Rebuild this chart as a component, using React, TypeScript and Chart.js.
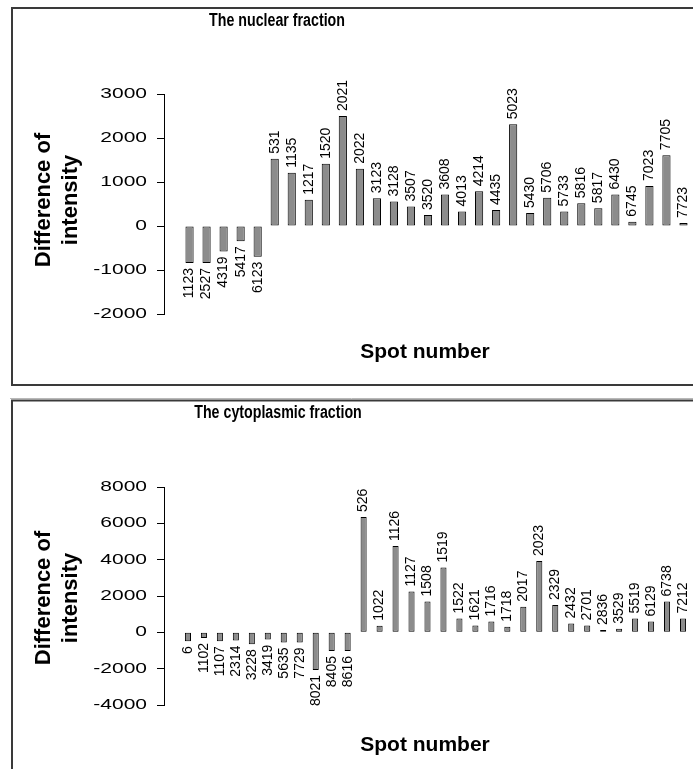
import React, { useEffect, useRef } from 'react';
import { Chart, registerables } from 'chart.js';

Chart.register(...registerables);

// ---------- data ----------
const nuclearSpots = ['', '1123', '2527', '4319', '5417', '6123', '531', '1135', '1217', '1520', '2021', '2022', '3123', '3128', '3507', '3520', '3608', '4013', '4214', '4435', '5023', '5430', '5706', '5733', '5816', '5817', '6430', '6745', '7023', '7705', '7723'];
const nuclearValues = [null, -842, -842, -580, -346, -700, 1528, 1211, 594, 1414, 2498, 1301, 632, 557, 444, 248, 715, 331, 790, 361, 2310, 293, 640, 331, 519, 406, 715, 98, 910, 1610, 68];
const nuclearTicks = [-2000, -1000, 0, 1000, 2000, 3000];

const cytoSpots = ['', '6', '1102', '1107', '2314', '3228', '3419', '5635', '7729', '8021', '8405', '8616', '526', '1022', '1126', '1127', '1508', '1519', '1522', '1621', '1716', '1718', '2017', '2023', '2329', '2432', '2701', '2836', '3529', '5519', '6129', '6738', '7212'];
const cytoValues = [null, -488, -307, -488, -452, -651, -400, -560, -560, -2070, -1030, -1030, 6346, 362, 4755, 2242, 1700, 3562, 759, 380, 597, 307, 1410, 3924, 1500, 488, 380, 127, 199, 759, 597, 1700, 759];
const cytoTicks = [-4000, -2000, 0, 2000, 4000, 6000, 8000];

const yTitleLines = ['Difference of', 'intensity'];
const xTitle = 'Spot number';

// ---------- layout ----------
type Panel = {
  title: string;
  labels: string[];
  values: (number | null)[];
  ticks: number[];
  canvasTop: number;
  canvasHeight: number;
  padTop: number;
  padBottom: number;
  padRight: number;
  barPct: number;
  frameTop: number;
  frameHeight: number;
  titleX: number;
  titleY: number;
  yTitleY: number;
  xTitleY: number;
  shadowY?: number;
};

const panels: Panel[] = [
  {
    title: 'The nuclear fraction',
    labels: nuclearSpots,
    values: nuclearValues,
    ticks: nuclearTicks,
    canvasTop: 0,
    canvasHeight: 399,
    padTop: 94,
    padBottom: 85,
    padRight: 1,
    barPct: 0.48,
    frameTop: 8,
    frameHeight: 377,
    titleX: 277,
    titleY: 21,
    yTitleY: 200,
    xTitleY: 352,
    shadowY: 398.5,
  },
  {
    title: 'The cytoplasmic fraction',
    labels: cytoSpots,
    values: cytoValues,
    ticks: cytoTicks,
    canvasTop: 399,
    canvasHeight: 370,
    padTop: 88,
    padBottom: 64,
    padRight: 2,
    barPct: 0.38,
    frameTop: 1.5,
    frameHeight: 600,
    titleX: 278,
    titleY: 14,
    yTitleY: 199,
    xTitleY: 346,
  },
];

const AXIS_LEFT = 164;

function drawRotated(ctx: CanvasRenderingContext2D, text: string, x: number, y: number, align: CanvasTextAlign) {
  ctx.save();
  ctx.translate(x, y);
  ctx.rotate(-Math.PI / 2);
  ctx.textAlign = align;
  ctx.textBaseline = 'middle';
  ctx.fillText(text, 0, 0);
  ctx.restore();
}

function makePlugin(p: Panel) {
  return {
    id: 'panelDecor',
    beforeDraw(chart: any) {
      const ctx: CanvasRenderingContext2D = chart.ctx;
      ctx.save();
      ctx.fillStyle = '#ffffff';
      ctx.fillRect(0, 0, chart.width, chart.height);
      ctx.strokeStyle = '#3a3a3a';
      ctx.lineWidth = 2;
      ctx.strokeRect(12, p.frameTop, 800, p.frameHeight);
      if (p.shadowY) {
        ctx.strokeStyle = '#b8b8b8';
        ctx.lineWidth = 1;
        ctx.beginPath();
        ctx.moveTo(10, p.shadowY);
        ctx.lineTo(chart.width, p.shadowY);
        ctx.stroke();
      }
      ctx.restore();
    },
    afterDraw(chart: any) {
      const ctx: CanvasRenderingContext2D = chart.ctx;
      const yScale = chart.scales.y;
      ctx.save();
      ctx.fillStyle = '#000';

      // y tick labels (wide rendering)
      ctx.font = '15px "Liberation Sans", Arial, sans-serif';
      ctx.textAlign = 'right';
      ctx.textBaseline = 'middle';
      yScale.ticks.forEach((t: any) => {
        const y = yScale.getPixelForValue(t.value);
        ctx.save();
        ctx.translate(147, y);
        ctx.scale(1.4, 1);
        ctx.fillText(String(t.value), 0, 0);
        ctx.restore();
      });

      // bar labels
      ctx.font = '14px "Liberation Sans", Arial, sans-serif';
      const meta = chart.getDatasetMeta(0);
      meta.data.forEach((el: any, i: number) => {
        const v = p.values[i];
        if (v === null || v === undefined) return;
        const label = String(chart.data.labels[i]);
        if (v >= 0) drawRotated(ctx, label, el.x, el.y - 5, 'left');
        else drawRotated(ctx, label, el.x, el.y + 5, 'right');
      });

      // chart title (condensed bold)
      ctx.save();
      ctx.font = 'bold 18px "Liberation Sans", Arial, sans-serif';
      ctx.textAlign = 'center';
      ctx.textBaseline = 'middle';
      ctx.translate(p.titleX, p.titleY);
      ctx.scale(0.79, 1);
      ctx.fillText(p.title, 0, 0);
      ctx.restore();

      // y title
      ctx.font = 'bold 22px "Liberation Sans", Arial, sans-serif';
      drawRotated(ctx, yTitleLines[0], 44, p.yTitleY, 'center');
      drawRotated(ctx, yTitleLines[1], 71, p.yTitleY, 'center');

      // x title
      ctx.font = 'bold 21px "Liberation Sans", Arial, sans-serif';
      ctx.textAlign = 'center';
      ctx.textBaseline = 'middle';
      ctx.fillText(xTitle, 425, p.xTitleY);

      ctx.restore();
    },
  };
}

function PanelChart({ p }: { p: Panel }) {
  const ref = useRef<HTMLCanvasElement | null>(null);
  useEffect(() => {
    if (!ref.current) return;
    const min = p.ticks[0];
    const max = p.ticks[p.ticks.length - 1];
    const step = p.ticks[1] - p.ticks[0];
    const chart = new Chart(ref.current, {
      type: 'bar',
      data: {
        labels: p.labels,
        datasets: [
          {
            data: p.values as any,
            backgroundColor: '#8c8c8c',
            borderColor: '#000000',
            borderWidth: 1,
            borderSkipped: false,
            barPercentage: p.barPct,
            categoryPercentage: 1,
          },
        ],
      },
      options: {
        responsive: false,
        animation: false,
        devicePixelRatio: 1,
        layout: { padding: { top: p.padTop, bottom: p.padBottom, left: 0, right: p.padRight } },
        plugins: { legend: { display: false }, title: { display: false }, tooltip: { enabled: false } },
        scales: {
          x: { type: 'category', display: false, offset: true },
          y: {
            type: 'linear',
            min,
            max,
            ticks: { stepSize: step, display: false },
            grid: { drawOnChartArea: false, drawTicks: true, tickLength: 7, color: '#000', tickColor: '#000', lineWidth: 1 },
            border: { display: true, color: '#000', width: 1 },
            afterFit: (scale: any) => {
              scale.width = AXIS_LEFT;
            },
          },
        },
      },
      plugins: [makePlugin(p) as any],
    });
    return () => chart.destroy();
  }, [p]);
  return (
    <canvas
      ref={ref}
      width={693}
      height={p.canvasHeight}
      style={{ position: 'absolute', left: 0, top: p.canvasTop, width: 693, height: p.canvasHeight, display: 'block' }}
    />
  );
}

export default function App() {
  return (
    <div style={{ position: 'absolute', left: 0, top: 0, width: 693, height: 769, overflow: 'hidden', background: '#fff' }}>
      {panels.map((p, i) => (
        <PanelChart key={i} p={p} />
      ))}
    </div>
  );
}
